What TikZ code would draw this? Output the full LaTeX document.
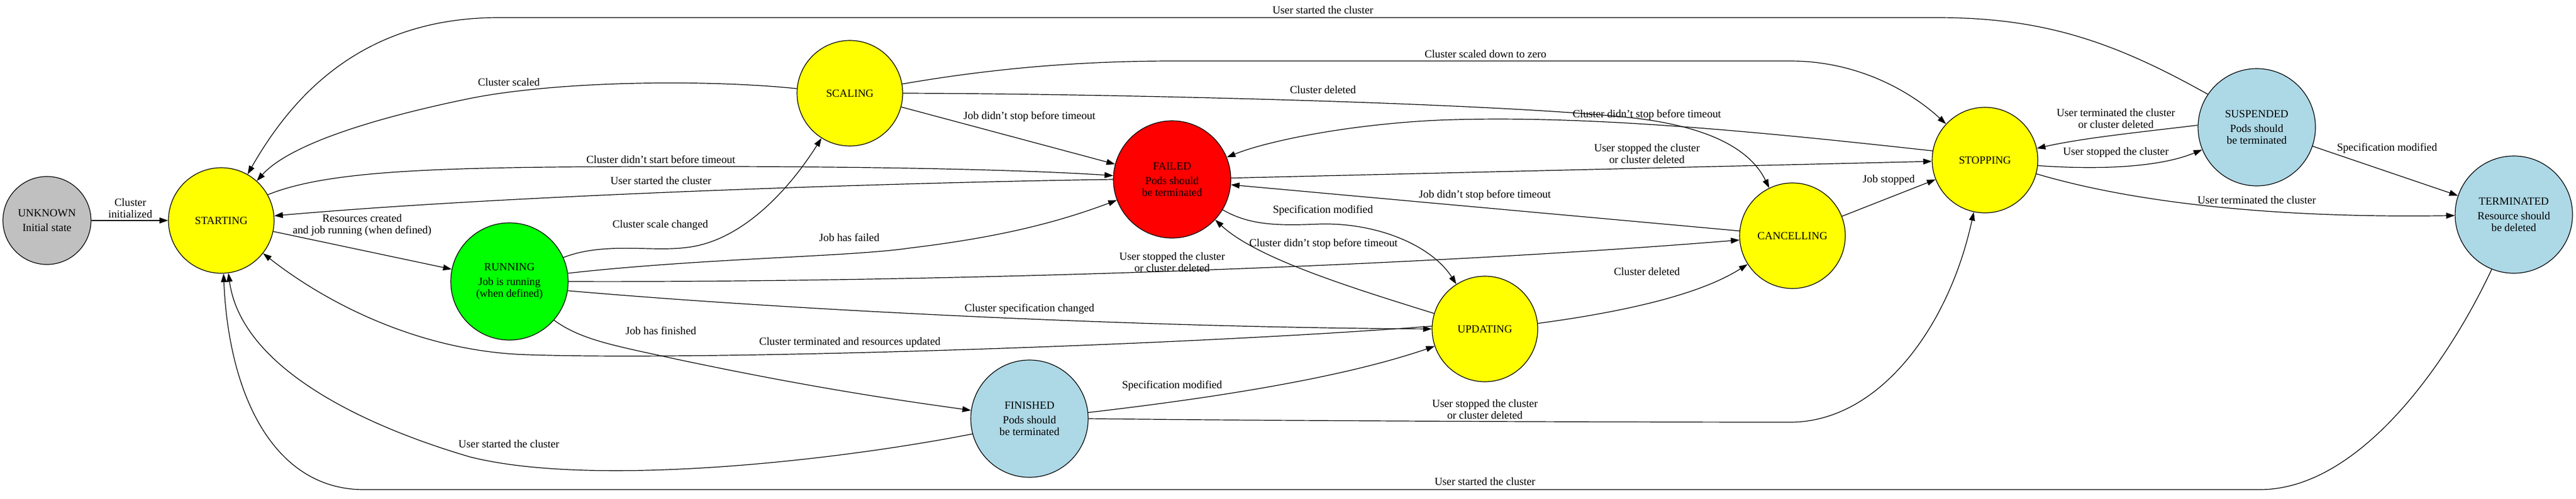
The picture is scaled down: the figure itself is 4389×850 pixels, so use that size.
\documentclass[tikz,border=0pt]{standalone}
\usepackage{fontspec}
\setmainfont{Liberation Serif}
\usetikzlibrary{arrows.meta}
\definecolor{stgrey}{RGB}{192,192,192}
\definecolor{styellow}{RGB}{255,255,0}
\definecolor{stgreen}{RGB}{0,255,0}
\definecolor{stred}{RGB}{255,0,0}
\definecolor{stblue}{RGB}{173,216,230}
\tikzset{
  state/.style={circle, draw=black, line width=0.9pt, inner sep=0pt, align=center,
    font=\fontsize{14}{15}\selectfont},
  small/.style={state, minimum size=112.5pt},
  mid/.style={state, minimum size=135pt},
  big/.style={state, minimum size=150pt},
  lbl/.style={align=center, inner sep=0pt, font=\fontsize{14}{15}\selectfont},
  conn/.style={draw=black, line width=0.9pt, -{Triangle[length=11pt,width=7.5pt]}}
}
\begin{document}
\begin{tikzpicture}[x=0.75pt,y=-0.75pt]
\useasboundingbox (0,0) rectangle (4389,850);
\fill[white] (0,0) rectangle (4389,850);

% states
\node[small, fill=stgrey] (UNKNOWN) at (80,376) {UNKNOWN\\[4pt]Initial state};
\node[mid, fill=styellow] (STARTING) at (377,376) {STARTING};
\node[mid, fill=styellow] (SCALING) at (1448,159) {SCALING};
\node[big, fill=stgreen] (RUNNING) at (868,480) {RUNNING\\[4pt]Job is running\\(when defined)};
\node[big, fill=stred] (FAILED) at (1997,306) {FAILED\\[4pt]Pods should\\be terminated};
\node[big, fill=stblue] (FINISHED) at (1754,714) {FINISHED\\[4pt]Pods should\\be terminated};
\node[mid, fill=styellow] (UPDATING) at (2530,561) {UPDATING};
\node[mid, fill=styellow] (CANCELLING) at (3054,402) {CANCELLING};
\node[mid, fill=styellow] (STOPPING) at (3382,273) {STOPPING};
\node[big, fill=stblue] (SUSPENDED) at (3845,217) {SUSPENDED\\[4pt]Pods should\\be terminated};
\node[big, fill=stblue] (TERMINATED) at (4283,366) {TERMINATED\\[4pt]Resource should\\be deleted};

% connectors
\draw[conn] (UNKNOWN) -- (STARTING);
\draw[conn] (STARTING) -- (RUNNING);
\draw[conn] (RUNNING.24) .. controls (1030,412) and (1110,430) .. (1170,422)
  .. controls (1260,412) and (1340,330) .. (SCALING);
\draw[conn] (SCALING.175) .. controls (1200,135) and (950,138) .. (800,168)
  .. controls (620,205) and (490,250) .. (STARTING);
\draw[conn] (SCALING) -- (FAILED);
\draw[conn] (SCALING.10) .. controls (1700,115) and (1850,104) .. (2000,104) -- (3050,104)
  .. controls (3170,104) and (3260,160) .. (STOPPING);
\draw[conn] (SCALING.0) .. controls (1900,160) and (2500,175) .. (2750,198)
  .. controls (2900,210) and (2980,250) .. (CANCELLING);
\draw[conn] (STARTING.29) .. controls (560,290) and (750,285) .. (1100,284)
  .. controls (1500,283) and (1750,290) .. (FAILED);
\draw[conn] (FAILED.180) .. controls (1600,310) and (900,330) .. (STARTING);
\draw[conn] (RUNNING.8) .. controls (1200,440) and (1450,438) .. (1550,423)
  .. controls (1700,405) and (1800,380) .. (FAILED);
\draw[conn] (RUNNING.0) .. controls (1600,482) and (2400,455) .. (CANCELLING);
\draw[conn] (RUNNING.-9) .. controls (1300,525) and (1900,558) .. (UPDATING.180);
\draw[conn] (UPDATING.177) .. controls (2000,590) and (1200,615) .. (900,605)
  .. controls (720,600) and (560,520) .. (STARTING);
\draw[conn] (FINISHED.195) .. controls (1400,790) and (1000,830) .. (800,779)
  .. controls (600,720) and (410,620) .. (STARTING);
\draw[conn] (TERMINATED.-112) .. controls (4170,620) and (4020,835) .. (3850,835) -- (620,835)
  .. controls (470,835) and (390,680) .. (STARTING);
\draw[conn] (RUNNING.-41) .. controls (990,580) and (1050,590) .. (1150,612)
  .. controls (1400,665) and (1550,685) .. (FINISHED);
\draw[conn] (FINISHED.6) .. controls (2100,675) and (2300,640) .. (UPDATING);
\draw[conn] (FINISHED.0) .. controls (2200,718) and (2800,720) .. (3050,720)
  .. controls (3200,720) and (3320,560) .. (STOPPING);
\draw[conn] (FAILED.-31) .. controls (2130,385) and (2180,385) .. (2250,382)
  .. controls (2350,380) and (2440,420) .. (UPDATING);
\draw[conn] (UPDATING.163) .. controls (2300,490) and (2140,440) .. (FAILED);
\draw[conn] (CANCELLING) -- (FAILED);
\draw[conn] (STOPPING.170) .. controls (3000,225) and (2700,195) .. (2450,205)
  .. controls (2300,212) and (2160,240) .. (FAILED);
\draw[conn] (FAILED) -- (STOPPING);
\draw[conn] (UPDATING.6) .. controls (2780,530) and (2900,500) .. (CANCELLING);
\draw[conn] (CANCELLING) -- (STOPPING);
\draw[conn] (STOPPING.-6) .. controls (3580,290) and (3680,285) .. (SUSPENDED);
\draw[conn] (SUSPENDED.178) .. controls (3650,225) and (3550,235) .. (STOPPING);
\draw[conn] (STOPPING.-15) .. controls (3650,350) and (3900,372) .. (TERMINATED);
\draw[conn] (SUSPENDED) -- (TERMINATED);
\draw[conn] (SUSPENDED.146) .. controls (3600,70) and (3480,30) .. (3300,30) -- (850,30)
  .. controls (620,30) and (500,160) .. (STARTING);

% labels
\node[lbl] (l1) at (222,355) {Cluster\\initialized};
\node[lbl] (l2) at (617,384) {Resources created\\and job running (when defined)};
\node[lbl] (l3) at (1125,384) {Cluster scale changed};
\node[lbl] (l4) at (867,140) {Cluster scaled};
\node[lbl] (l5) at (1754,199) {Job didn't stop before timeout};
\node[lbl] (l6) at (2531,92) {Cluster scaled down to zero};
\node[lbl] (l7) at (2254,153) {Cluster deleted};
\node[lbl] (l8) at (1126,272) {Cluster didn't start before timeout};
\node[lbl] (l9) at (1126,308) {User started the cluster};
\node[lbl] (l10) at (1447,405) {Job has failed};
\node[lbl] (l11) at (1997,447) {User stopped the cluster\\or cluster deleted};
\node[lbl] (l12) at (1754,527) {Cluster specification changed};
\node[lbl] (l13) at (1448,584) {Cluster terminated and resources updated};
\node[lbl] (l14) at (867,757) {User started the cluster};
\node[lbl] (l15) at (2530,821) {User started the cluster};
\node[lbl] (l16) at (1126,564) {Job has finished};
\node[lbl] (l17) at (1997,658) {Specification modified};
\node[lbl] (l18) at (2530,698) {User stopped the cluster\\or cluster deleted};
\node[lbl] (l19) at (2254,359) {Specification modified};
\node[lbl] (l20) at (2255,416) {Cluster didn't stop before timeout};
\node[lbl] (l21) at (2530,333) {Job didn't stop before timeout};
\node[lbl] (l22) at (2806,196) {Cluster didn't stop before timeout};
\node[lbl] (l23) at (2806,262) {User stopped the cluster\\or cluster deleted};
\node[lbl] (l24) at (2806,463) {Cluster deleted};
\node[lbl] (l25) at (3218,307) {Job stopped};
\node[lbl] (l26) at (3605,260) {User stopped the cluster};
\node[lbl] (l27) at (3605,202) {User terminated the cluster\\or cluster deleted};
\node[lbl] (l28) at (3845,341) {User terminated the cluster};
\node[lbl] (l29) at (4067,253) {Specification modified};
\node[lbl] (l30) at (2254,17) {User started the cluster};
\end{tikzpicture}
\end{document}
